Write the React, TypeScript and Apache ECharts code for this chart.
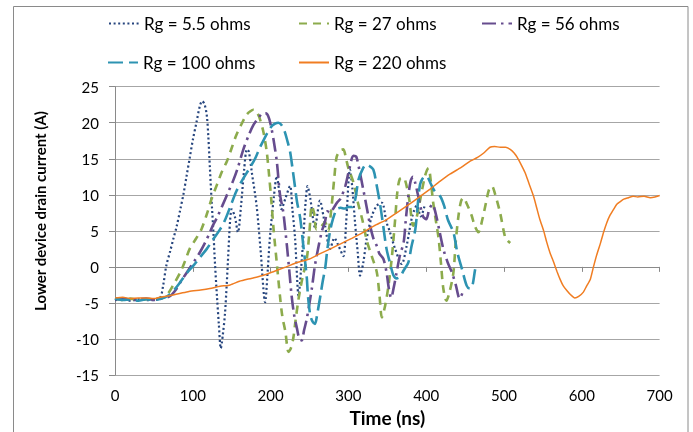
import React, { useEffect, useRef } from 'react';
import * as echarts from 'echarts';

const seriesNames = ['Rg = 5.5 ohms', 'Rg = 27 ohms', 'Rg = 56 ohms', 'Rg = 100 ohms', 'Rg = 220 ohms'];
const seriesColors = ['#26457E', '#8CAB4C', '#664C8E', '#2D93B2', '#F07D22'];
const xTitle = 'Time (ns)';
const yTitle = 'Lower device drain current (A)';

const t55 = [0, 10, 20, 30, 40, 50, 58, 62, 66, 71, 75, 79, 84, 88, 92, 96, 100, 105, 109, 112, 115, 118, 120, 122, 124, 126.5, 128.5, 131, 133.5, 136, 138.5, 141.5, 145.5, 148, 150, 154, 158, 162, 166, 169.5, 172, 176, 182, 187, 193, 196, 199, 204, 208, 211, 214, 219, 225, 228, 231.5, 236, 239, 242, 245, 247.5, 251, 257, 263.5, 268, 270, 276.5, 282, 287, 293.5, 297, 302, 305, 308.5, 312, 315, 319, 323.5, 330, 336.5, 343, 349, 353.5, 360, 368.5, 375, 382, 388, 393, 398];
const i55 = [-4.6, -4.5, -4.7, -4.5, -4.6, -4.6, -4.3, -2.5, 0.2, 2.2, 3.9, 5.5, 8.0, 10.1, 12.6, 15.1, 17.6, 20.2, 22.3, 23.0, 22.6, 21.0, 18.0, 13.7, 9.5, 4.8, 0.5, -4.0, -8.0, -11.3, -9.5, -6.3, 1.5, 6.5, 8.0, 7.0, 4.8, 8.5, 13.5, 16.3, 16.0, 13.0, 8.5, 2.5, -4.9, -1.0, 3.9, 9.5, 12.6, 10.5, 8.0, 9.5, 11.2, 8.0, 3.9, -4.0, -0.5, 3.9, 9.0, 11.2, 9.5, 5.5, 9.2, 7.0, 5.7, 2.5, 4.0, 3.0, 1.5, 6.0, 13.5, 11.0, 6.2, 2.0, -1.2, 0.5, 3.9, 7.0, 8.5, 8.9, 6.2, 4.8, 2.5, 0.4, 3.0, 7.0, 8.5, 7.0, 8.5];

const t27 = [0, 10, 20, 30, 40, 50, 60, 66, 75, 84, 90, 96, 104, 111, 118, 124, 131, 137, 144, 150, 156, 163, 169, 174, 178, 182, 186, 191, 195, 198, 201, 204, 208, 212, 215, 219, 223, 226, 229, 232, 236, 241, 246.5, 250, 253, 256, 259, 265, 270, 274, 278, 282, 285, 290, 293.5, 297, 300, 306.5, 312, 318, 324, 330, 336.5, 340, 343, 347, 351.5, 356, 360, 363, 366, 370, 373, 378, 383.5, 388, 394, 399, 403, 406, 409, 413, 416, 419, 422, 426, 430, 435, 438, 441.5, 445, 448, 452, 458.5, 462, 467, 472, 478, 481, 484.5, 488, 495, 501.5, 505, 508];
const i27 = [-4.4, -4.6, -4.4, -4.6, -4.5, -4.4, -4.3, -4.0, -2.5, -0.75, 0.8, 2.5, 3.9, 5.2, 7.3, 9.4, 11.4, 13.1, 14.7, 16.5, 18.3, 19.9, 21.1, 21.6, 21.8, 21.5, 20.6, 18.6, 16.0, 12.8, 9.1, 5.0, 0.5, -4.0, -6.8, -9.0, -11.8, -11.3, -10.0, -7.5, -4.4, -1.5, 1.1, 5.0, 8.5, 7.4, 5.2, 5.6, 6.2, 5.0, 8.0, 12.5, 15.3, 16.2, 16.3, 15.0, 13.7, 11.7, 9.0, 6.5, 3.5, 1.5, -0.75, -4.0, -7.0, -5.5, -2.6, 1.5, 6.5, 10.5, 12.2, 12.4, 12.0, 9.5, 5.7, 7.0, 10.3, 12.8, 13.7, 11.8, 8.9, 6.0, 3.9, 0.5, -3.0, -4.7, -3.5, -0.75, 3.5, 7.1, 9.2, 9.6, 8.8, 7.1, 5.8, 4.8, 6.5, 9.5, 10.8, 11.2, 10.3, 7.5, 4.1, 3.6, 3.3];

const t56 = [0, 10, 20, 30, 40, 50, 60, 70, 78, 86, 94, 102, 109, 116, 122, 126, 131, 138, 146, 152, 158, 165, 172, 178, 184, 190, 194, 197, 200, 204, 208, 212, 216, 218.5, 221, 224, 227, 230, 234, 237, 240, 243, 246.5, 250, 253, 257, 261, 266, 270, 273, 276.5, 280, 286, 290, 296, 301, 306.5, 310, 314, 319, 324, 328, 332, 336.5, 340, 345, 349, 352, 355, 358, 362, 366, 371, 374, 377, 380, 383, 386, 392, 396, 400, 404, 408, 412, 417, 422, 428, 433, 438, 443, 447];
const i56 = [-4.5, -4.4, -4.6, -4.5, -4.4, -4.6, -4.4, -4.1, -3.2, -1.8, -0.5, 0.8, 2.0, 3.4, 4.8, 5.8, 6.8, 8.5, 10.5, 12.0, 13.8, 16.3, 18.3, 19.7, 20.6, 21.3, 21.3, 20.9, 19.8, 17.5, 14.6, 10.1, 7.8, 5.5, 2.9, -0.5, -4.0, -6.5, -8.6, -10.0, -10.2, -8.8, -7.2, -5.0, -3.0, 0.2, 2.5, 5.0, 6.3, 7.7, 7.5, 8.0, 9.0, 9.5, 11.2, 13.5, 15.4, 15.3, 13.5, 10.8, 8.0, 5.7, 4.0, 2.9, 1.8, 1.1, -0.75, -3.0, -4.3, -3.0, -0.75, 1.5, 3.4, 6.8, 9.8, 11.9, 12.5, 11.6, 8.7, 7.0, 6.6, 8.0, 8.7, 7.5, 5.0, 2.5, 0.5, -0.75, -2.5, -4.4, -3.5];

const t100 = [0, 10, 20, 30, 40, 50, 60, 68, 76, 84, 92, 101, 109, 118, 126, 135, 141, 148, 156, 164, 173, 180, 186, 192, 197, 202, 206, 210, 214, 218, 222, 225, 228, 231, 234, 238, 242, 246.5, 248, 251, 254, 257, 260, 264, 267, 270, 273, 276.5, 280, 285, 290, 295, 300, 305, 309, 313, 318, 323, 327, 332, 336, 341, 345, 349, 354, 358, 362, 366, 371, 377, 381, 386, 389, 392, 395, 399, 402, 406, 411, 418, 423, 428, 435, 440, 446, 452, 456, 459, 463, 465];
const i100 = [-4.4, -4.6, -4.5, -4.7, -4.5, -4.6, -4.4, -4.0, -3.2, -2.1, -0.9, 0.2, 1.3, 2.5, 3.8, 5.2, 6.4, 8.3, 10.5, 12.1, 13.7, 15.0, 16.5, 17.8, 18.8, 19.6, 19.9, 20.0, 19.7, 18.8, 17.3, 16.0, 13.8, 11.4, 9.0, 6.8, 3.0, -1.5, -4.0, -6.7, -7.6, -7.9, -6.5, -4.0, -2.0, -0.3, 2.5, 5.0, 6.6, 8.0, 8.2, 8.1, 8.3, 8.3, 9.5, 12.1, 13.5, 14.2, 14.0, 13.5, 11.5, 8.5, 5.5, 2.5, 0.3, -1.2, -1.6, -1.4, -0.5, 0.6, 2.8, 5.2, 8.5, 11.4, 12.2, 12.6, 12.4, 11.5, 10.5, 9.8, 8.5, 6.5, 4.8, 2.0, -0.3, -2.6, -3.0, -2.8, -0.3, 0.5];

const t220 = [0, 10, 20, 30, 40, 50, 58, 70, 83, 95, 110, 122, 135, 148, 160, 175, 190, 205, 220, 234, 250, 263, 277, 290, 305, 319, 333, 348, 362, 377, 390, 405, 418, 431, 445, 457, 466, 474, 482, 488, 495, 502, 508, 513, 517, 522, 527, 532, 538, 542, 546, 551, 555, 559, 564, 568, 572, 576, 581, 586, 591, 596, 602, 606, 611, 615, 619, 624, 628, 632, 636, 641, 645, 650, 654, 660, 666, 672, 680, 688, 694, 700];
const i220 = [-4.3, -4.2, -4.4, -4.3, -4.3, -4.4, -4.2, -4.0, -3.7, -3.4, -3.2, -3.0, -2.7, -2.5, -2.0, -1.6, -1.2, -0.6, 0.0, 0.6, 1.1, 1.8, 2.5, 3.2, 4.0, 4.8, 5.7, 6.5, 7.5, 8.6, 9.6, 10.8, 11.9, 12.9, 13.8, 14.7, 15.2, 15.8, 16.6, 16.7, 16.6, 16.6, 16.3, 15.8, 15.2, 14.2, 13.1, 11.6, 9.8, 8.2, 6.6, 5.0, 3.4, 2.0, 0.6, -0.6, -1.7, -2.6, -3.3, -3.9, -4.3, -4.1, -3.5, -2.7, -1.7, 0.0, 1.6, 3.3, 4.8, 6.1, 7.1, 8.0, 8.7, 9.1, 9.4, 9.6, 9.8, 9.7, 9.8, 9.6, 9.7, 9.9];

const xMin = 0, xMax = 700, xStep = 100;
const yMin = -15, yMax = 25, yStep = 5;

const zip = (t: number[], v: number[]) => t.map((x, k) => [x, v[k]]);

export default function App() {
  const ref = useRef<HTMLDivElement>(null);
  useEffect(() => {
    if (!ref.current) return;
    const chart = echarts.init(ref.current, undefined, { renderer: 'svg' });
    const font = 'Lato';
    const datasets = [zip(t55, i55), zip(t27, i27), zip(t56, i56), zip(t100, i100), zip(t220, i220)];
    const dashes: any[] = [[2, 2.6], [8, 6], [14, 5, 2.5, 5], [15, 6], 'solid'];
    const widths = [2.2, 2.6, 2.6, 2.6, 1.5];
    const smooths = [0.3, 0.3, 0.3, 0.3, 0.2];
    const legendPos = [
      { left: 108, top: 15 },
      { left: 298, top: 15 },
      { left: 481, top: 15 },
      { left: 107, top: 54 },
      { left: 298, top: 54 },
    ];
    chart.setOption({
      animation: false,
      textStyle: { fontFamily: font },
      graphic: [
        {
          type: 'rect',
          shape: { x: 13.5, y: 6.5, width: 674.5, height: 440 },
          style: { fill: 'none', stroke: '#8a8a8a', lineWidth: 1 },
          silent: true,
          z: -1,
        },
        {
          type: 'text',
          x: 40,
          y: 211,
          rotation: Math.PI / 2,
          silent: true,
          style: {
            text: yTitle,
            fontFamily: font,
            fontSize: 15,
            fontWeight: 'bold',
            fill: '#000',
            textAlign: 'center',
            textVerticalAlign: 'middle',
          },
        },
      ],
      legend: seriesNames.map((n, k) => ({
        data: [n],
        left: legendPos[k].left,
        top: legendPos[k].top,
        itemWidth: 30,
        itemHeight: 14,
        itemGap: 5,
        padding: 0,
        selectedMode: false,
        itemStyle: { opacity: 0 },
        textStyle: { fontFamily: font, fontSize: 17, color: '#000' },
      })),
      grid: { left: 115, right: 33.4, top: 86.7, bottom: 55.3 },
      xAxis: {
        type: 'value',
        min: xMin,
        max: xMax,
        interval: xStep,
        name: xTitle,
        nameLocation: 'middle',
        nameGap: 33,
        nameTextStyle: { fontFamily: font, fontSize: 19, fontWeight: 'bold', color: '#000' },
        axisLine: { show: true, lineStyle: { color: '#8a8a8a', width: 1 } },
        axisTick: { show: true, length: 5, lineStyle: { color: '#8a8a8a' } },
        axisLabel: { fontFamily: font, fontSize: 15, color: '#000', margin: 12 },
        splitLine: { show: false },
      },
      yAxis: {
        type: 'value',
        min: yMin,
        max: yMax,
        interval: yStep,
        axisLine: { show: true, lineStyle: { color: '#8a8a8a', width: 1 } },
        axisTick: { show: true, length: 6, lineStyle: { color: '#8a8a8a' } },
        axisLabel: { fontFamily: font, fontSize: 15, color: '#000', margin: 16 },
        splitLine: { show: true, lineStyle: { color: '#a6a6a6', width: 1 } },
      },
      series: seriesNames.map((n, k) => ({
        name: n,
        type: 'line',
        data: datasets[k],
        symbol: 'none',
        smooth: smooths[k],
        z: 2 + k,
        itemStyle: { color: seriesColors[k], opacity: 0 },
        lineStyle: { color: seriesColors[k], width: widths[k], type: dashes[k], cap: 'butt' },
      })),
    });
    return () => chart.dispose();
  }, []);
  return <div ref={ref} style={{ position: 'fixed', left: 0, top: 0, width: 693, height: 432 }} />;
}
